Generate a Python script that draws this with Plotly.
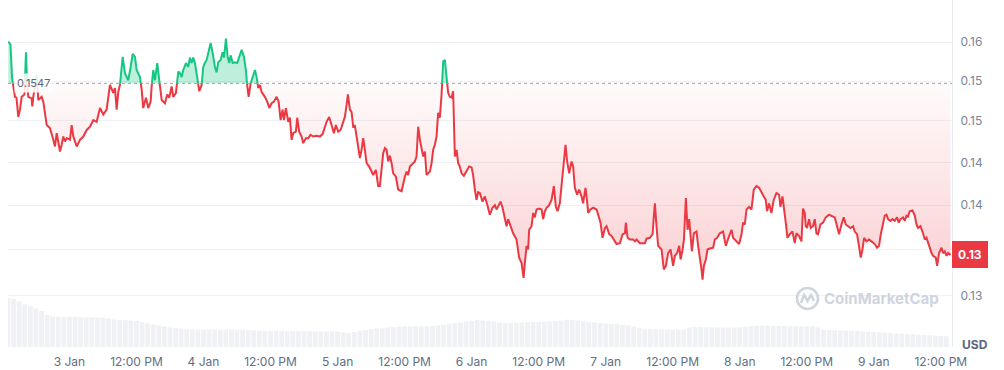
import numpy as np
import pandas as pd
import plotly.graph_objects as go

# ---------------- data ----------------
START = pd.Timestamp("2024-01-02 13:00")
REF_PRICE = 0.1547
LAST_LABEL = "0.13"

hours = [
    0.05, 0.45, 0.72, 0.98, 1.25, 1.52, 1.84, 2.15, 2.45, 2.95,
    3.22, 3.49, 3.63, 4.24, 4.35, 4.53, 5.14, 5.42, 6.03, 6.32,
    6.93, 7.52, 8.11, 8.41, 8.72, 9.00, 9.31, 9.61, 9.90, 10.20,
    10.51, 11.10, 11.40, 11.69, 12.30, 12.89, 13.48, 14.09, 14.68, 15.27,
    15.87, 16.47, 17.06, 17.66, 18.25, 18.85, 19.15, 19.45, 19.74, 20.04,
    20.53, 20.94, 21.53, 21.96, 22.32, 22.73, 23.03, 23.62, 23.93, 24.21,
    24.70, 25.11, 25.54, 25.72, 26.00, 26.31, 26.72, 27.08, 27.51, 28.10,
    28.51, 28.87, 29.30, 29.58, 30.07, 30.48, 30.78, 31.09, 31.37, 31.86,
    32.27, 32.57, 32.88, 33.16, 33.47, 33.77, 34.24, 34.67, 34.95, 35.26,
    35.56, 35.85, 36.28, 36.64, 37.05, 37.35, 37.64, 38.07, 38.42, 38.66,
    39.02, 39.32, 39.61, 39.86, 40.22, 40.63, 41.04, 41.40, 41.83, 42.24,
    42.59, 42.83, 43.08, 43.44, 43.79, 44.21, 44.51, 44.80, 45.10, 45.40,
    45.99, 46.41, 46.77, 47.20, 47.61, 48.09, 48.45, 48.81, 49.16, 49.40,
    49.75, 50.17, 50.47, 50.77, 51.06, 51.54, 51.78, 52.13, 52.56, 52.85,
    53.33, 53.74, 54.17, 54.64, 55.25, 55.84, 56.32, 56.74, 57.04, 57.50,
    57.93, 58.35, 58.70, 59.11, 59.54, 60.01, 60.31, 60.62, 60.85, 61.21,
    61.51, 61.80, 62.10, 62.41, 62.69, 63.00, 63.30, 63.59, 63.89, 64.20,
    64.66, 65.09, 65.38, 65.86, 66.27, 66.58, 66.88, 67.17, 67.47, 67.78,
    68.06, 68.37, 68.67, 68.96, 69.44, 69.85, 70.46, 70.75, 71.05, 71.36,
    71.64, 71.95, 72.25, 72.84, 73.14, 73.43, 73.74, 74.04, 74.33, 74.63,
    74.93, 75.22, 75.53, 75.83, 76.12, 76.42, 76.72, 77.01, 77.31, 77.62,
    77.91, 78.21, 78.51, 78.80, 79.10, 79.41, 79.69, 79.87, 80.00, 80.30,
    80.59, 80.89, 81.20, 81.61, 82.09, 82.56, 82.99, 83.27, 83.58, 83.88,
    84.17, 84.47, 84.96, 85.37, 85.78, 86.26, 86.74, 87.16, 87.46, 87.75,
    88.18, 88.54, 88.95, 89.25, 89.54, 89.84, 90.15, 90.43, 91.04, 91.51,
    91.94, 92.30, 92.53, 92.84, 93.12, 93.30, 93.73, 94.02, 94.32, 94.62,
    95.09, 95.52, 95.81, 96.11, 96.42, 96.88, 97.31, 97.72, 98.08, 98.38,
    98.79, 99.10, 99.38, 99.81, 100.10, 100.46, 100.89, 101.17, 101.48, 101.89,
    102.25, 102.68, 102.96, 103.39, 103.68, 103.86, 104.29, 104.76, 105.37, 105.66,
    106.08, 106.44, 106.86, 107.16, 107.63, 108.06, 108.52, 108.95, 109.54, 110.03,
    110.44, 110.62, 110.92, 111.33, 111.92, 112.23, 112.53, 113.12, 114.02, 114.32,
    114.91, 115.40, 115.63, 115.81, 116.10, 116.39, 117.00, 117.41, 117.77, 118.18,
    118.61, 119.07, 119.39, 119.80, 120.16, 120.41, 120.77, 121.01, 121.36, 121.66,
    121.95, 122.20, 122.43, 122.79, 123.26, 123.55, 123.86, 124.16, 124.34, 124.58,
    124.93, 125.23, 125.64, 126.24, 126.54, 126.95, 127.43, 128.02, 128.50, 128.74,
    129.10, 129.53, 129.81, 130.42, 130.89, 131.32, 131.60, 131.91, 132.21, 132.68,
    133.10, 133.51, 133.99, 134.46, 134.89, 135.30, 135.66, 135.89, 136.25, 136.68,
    137.09, 137.57, 138.04, 138.29, 138.65, 138.88, 139.24, 139.54, 139.96, 140.44,
    140.85, 141.15, 141.62, 142.05, 142.33, 142.64, 142.82, 143.05, 143.41, 143.71,
    144.12, 144.43, 144.73, 145.02, 145.45, 145.91, 146.40, 146.99, 147.42, 148.01,
    148.42, 148.78, 149.21, 149.62, 149.98, 150.39, 150.82, 151.29, 151.59, 152.00,
    152.36, 152.67, 152.97, 153.26, 153.68, 154.15, 154.58, 155.17, 155.58, 155.94,
    156.25, 156.55, 156.96, 157.27, 157.55, 157.98, 158.34, 158.75, 159.16, 159.47,
    159.77, 160.24, 160.54, 160.85, 161.13, 161.44, 161.92, 162.33, 162.64, 162.92,
    163.35, 163.71, 164.13, 164.43, 164.72, 165.02, 165.33, 165.61, 166.10, 166.33,
    166.69, 167.12, 167.41, 167.71, 168.02, 168.30, 168.73,
]

price = [
    .1601, .1597, .1555, .1541, .1530, .1529, .1505, .1514, .1530, .1533,
    .1587, .1533, .1530, .1528, .1518, .1530, .1558, .1526, .1530, .1524,
    .1495, .1491, .1477, .1469, .1485, .1473, .1463, .1471, .1481, .1475,
    .1479, .1477, .1495, .1481, .1469, .1477, .1481, .1489, .1493, .1501,
    .1499, .1516, .1508, .1514, .1545, .1535, .1541, .1514, .1536, .1545,
    .1581, .1560, .1551, .1568, .1585, .1581, .1564, .1555, .1539, .1516,
    .1529, .1516, .1524, .1543, .1564, .1551, .1573, .1551, .1526, .1522,
    .1533, .1529, .1543, .1530, .1535, .1562, .1560, .1555, .1564, .1573,
    .1568, .1580, .1573, .1580, .1573, .1560, .1537, .1545, .1568, .1573,
    .1577, .1586, .1599, .1586, .1568, .1561, .1574, .1577, .1587, .1580,
    .1605, .1581, .1573, .1583, .1573, .1574, .1573, .1581, .1590, .1581,
    .1564, .1543, .1530, .1547, .1555, .1564, .1555, .1541, .1545, .1536,
    .1530, .1524, .1516, .1522, .1524, .1530, .1524, .1501, .1514, .1501,
    .1516, .1499, .1504, .1477, .1485, .1487, .1504, .1487, .1481, .1473,
    .1479, .1479, .1483, .1481, .1482, .1481, .1484, .1493, .1499, .1505,
    .1495, .1485, .1495, .1487, .1489, .1499, .1505, .1520, .1533, .1514,
    .1511, .1493, .1494, .1481, .1469, .1455, .1465, .1479, .1465, .1449,
    .1445, .1439, .1435, .1441, .1422, .1422, .1441, .1461, .1467, .1465,
    .1451, .1458, .1449, .1437, .1433, .1418, .1416, .1426, .1433, .1439,
    .1435, .1445, .1447, .1451, .1457, .1493, .1477, .1465, .1457, .1463,
    .1435, .1437, .1439, .1449, .1465, .1471, .1481, .1510, .1504, .1533,
    .1575, .1577, .1555, .1535, .1530, .1529, .1537, .1465, .1457, .1465,
    .1449, .1445, .1437, .1434, .1439, .1445, .1444, .1435, .1418, .1406,
    .1415, .1414, .1404, .1410, .1401, .1389, .1397, .1400, .1395, .1398,
    .1404, .1397, .1384, .1376, .1384, .1378, .1372, .1368, .1361, .1341,
    .1335, .1319, .1335, .1354, .1350, .1372, .1376, .1391, .1386, .1395,
    .1396, .1395, .1384, .1393, .1397, .1400, .1406, .1422, .1398, .1393,
    .1402, .1425, .1441, .1471, .1451, .1437, .1451, .1445, .1420, .1412,
    .1418, .1410, .1402, .1420, .1404, .1391, .1395, .1397, .1395, .1389,
    .1380, .1363, .1374, .1376, .1367, .1365, .1361, .1356, .1357, .1367,
    .1368, .1380, .1363, .1361, .1361, .1359, .1361, .1357, .1357, .1362,
    .1363, .1367, .1388, .1402, .1376, .1354, .1350, .1328, .1332, .1346,
    .1350, .1332, .1343, .1346, .1354, .1339, .1350, .1361, .1408, .1372,
    .1384, .1365, .1348, .1368, .1370, .1354, .1343, .1328, .1317, .1332,
    .1339, .1350, .1351, .1352, .1361, .1363, .1368, .1370, .1354, .1359,
    .1365, .1372, .1363, .1359, .1356, .1367, .1380, .1378, .1395, .1398,
    .1395, .1418, .1422, .1420, .1414, .1410, .1406, .1393, .1402, .1391,
    .1406, .1414, .1412, .1398, .1410, .1395, .1380, .1363, .1367, .1370,
    .1357, .1368, .1365, .1359, .1396, .1391, .1376, .1374, .1384, .1374,
    .1376, .1384, .1368, .1367, .1378, .1380, .1386, .1389, .1388, .1386,
    .1376, .1367, .1378, .1386, .1378, .1376, .1374, .1376, .1370, .1367,
    .1354, .1341, .1350, .1363, .1359, .1361, .1359, .1356, .1352, .1354,
    .1367, .1376, .1388, .1389, .1384, .1382, .1384, .1382, .1386, .1380,
    .1384, .1386, .1382, .1388, .1387, .1393, .1394, .1388, .1378, .1374,
    .1376, .1370, .1361, .1363, .1356, .1352, .1346, .1343, .1341, .1332,
    .1346, .1352, .1346, .1348, .1343, .1346, .1344,
]

# hourly volume (millions USD, approximate)
volume = [
    49, 48, 45.5, 42.5, 41, 38.5, 36, 32, 30.5, 30,
    30, 30, 30, 29.8, 29.8, 29.5, 29.5, 29.3, 28.5, 27.5,
    27, 26.8, 26.5, 26, 25, 23.5, 22.5, 21.5, 20.5, 19.5,
    19, 18.5, 17.8, 17.5, 17.3, 17.5, 17.5, 17.3, 17.3, 17.3,
    17.5, 17.3, 17.3, 17, 16.8, 16.5, 16.3, 16, 16.3, 16,
    15.8, 16, 16, 16, 15.8, 15.5, 15.5, 15.5, 15.5, 15.3,
    14.5, 14, 15, 16.3, 17, 17.8, 18.5, 18.8, 19.5, 20,
    20.5, 20.7, 20.7, 20.7, 20.8, 20.8, 21, 21.5, 22.5, 23.5,
    24, 24.5, 25.5, 26, 27, 26.5, 26, 25.5, 24.5, 24,
    24, 24.3, 24.5, 24.8, 25, 25, 25.3, 25.5, 26, 26.5,
    27.3, 27, 26.3, 25.8, 25, 24.5, 24, 23.5, 23, 22.7,
    22, 21.5, 20.5, 19, 18.3, 18, 17.8, 17.6, 17.5, 17.4,
    17.3, 17.5, 19.5, 20, 20, 19.8, 19.7, 19.5, 19.4, 19.3,
    19.3, 19.8, 20.3, 20.8, 21.2, 21.3, 21.3, 21.2, 21, 21,
    20.8, 20.7, 20.7, 20.7, 20.7, 19.5, 17.3, 17, 16.8, 16.5,
    16.3, 16.2, 16, 15.5, 15.2, 15, 14.7, 14.3, 14, 13.5,
    13.3, 13, 12.6, 12.2, 12, 11.7, 11.3, 11, 10.7,
]
volume_hours = list(range(len(volume)))

# the 0.135 tick label sits under the last-price badge, so its text is left empty
y_tickvals = [0.13, 0.135, 0.14, 0.145, 0.15, 0.155, 0.16]
y_ticktext = ["0.13", "", "0.14", "0.14", "0.15", "0.15", "0.16"]

x_tick_hours = [11, 23, 35, 47, 59, 71, 83, 95, 107, 119, 131, 143, 155, 167]
x_ticktext = ["3 Jan", "12:00 PM", "4 Jan", "12:00 PM", "5 Jan", "12:00 PM",
              "6 Jan", "12:00 PM", "7 Jan", "12:00 PM", "8 Jan", "12:00 PM",
              "9 Jan", "12:00 PM"]
RANGE_HOURS = 169

# ---------------- processing ----------------
RED = "#ea3943"
GREEN = "#16c784"
FONT = "Inter, sans-serif"

t = [START + pd.Timedelta(hours=h) for h in hours]
ts, ps = [], []
for i in range(len(price)):
    if i > 0:
        p0, p1 = price[i - 1], price[i]
        if (p0 - REF_PRICE) * (p1 - REF_PRICE) < 0:
            f = (REF_PRICE - p0) / (p1 - p0)
            ts.append(t[i - 1] + (t[i] - t[i - 1]) * f)
            ps.append(REF_PRICE)
    ts.append(t[i])
    ps.append(price[i])
ps = np.array(ps)
red_y = [p if p <= REF_PRICE + 1e-12 else None for p in ps]
green_y = [p if p >= REF_PRICE - 1e-12 else None for p in ps]
low = np.minimum(ps, REF_PRICE)
high = np.maximum(ps, REF_PRICE)
ref_y = [REF_PRICE] * len(ts)

vt = [START + pd.Timedelta(hours=h) for h in volume_hours]
x_end = START + pd.Timedelta(hours=RANGE_HOURS)

fig = go.Figure()
fig.add_trace(go.Bar(x=vt, y=volume, yaxis="y2", marker=dict(color="#f0f1f4", line=dict(width=0)),
                     hoverinfo="skip"))
fig.add_trace(go.Scatter(x=ts, y=ref_y, mode="lines", line=dict(width=0), hoverinfo="skip"))
fig.add_trace(go.Scatter(x=ts, y=low, mode="lines", line=dict(width=0), fill="tonexty",
                         fillgradient=dict(type="vertical",
                                           colorscale=[[0, "rgba(234,57,67,0.24)"],
                                                       [1, "rgba(234,57,67,0.02)"]]),
                         hoverinfo="skip"))
fig.add_trace(go.Scatter(x=ts, y=ref_y, mode="lines", line=dict(width=0), hoverinfo="skip"))
fig.add_trace(go.Scatter(x=ts, y=high, mode="lines", line=dict(width=0), fill="tonexty",
                         fillcolor="rgba(22,199,132,0.28)", hoverinfo="skip"))
fig.add_trace(go.Scatter(x=[START, x_end], y=[REF_PRICE, REF_PRICE], mode="lines",
                         line=dict(color="#9aa1ad", width=1, dash="dot"), hoverinfo="skip"))
fig.add_trace(go.Scatter(x=ts, y=red_y, mode="lines", line=dict(color=RED, width=2),
                         connectgaps=False, hoverinfo="skip"))
fig.add_trace(go.Scatter(x=ts, y=green_y, mode="lines", line=dict(color=GREEN, width=2),
                         connectgaps=False, hoverinfo="skip"))

def px_x(p):
    return (p - 8) / 944.0

def px_y(p):
    return (347 - p) / 347.0

annotations = [
    dict(x=px_x(14), y=np.log10(REF_PRICE), xref="paper", yref="y", xanchor="left", yanchor="middle",
         text=f"{REF_PRICE}", showarrow=False, font=dict(family=FONT, size=11, color="#58667e"),
         bgcolor="rgba(255,255,255,0.85)", borderpad=2),
    dict(x=1.0, y=np.log10(price[-1]), xref="paper", yref="y", xanchor="left", yanchor="middle",
         text=f"<b>{LAST_LABEL}</b>", showarrow=False, font=dict(family=FONT, size=12, color="white"),
         bgcolor=RED, bordercolor=RED, borderpad=5),
    dict(x=px_x(975), y=px_y(344), xref="paper", yref="paper", xanchor="center", yanchor="middle",
         text="<b>USD</b>", showarrow=False, font=dict(family=FONT, size=12, color="#58667e")),
    dict(x=px_x(881.5), y=px_y(298.5), xref="paper", yref="paper", xanchor="center", yanchor="middle",
         text="<b>CoinMarketCap</b>", showarrow=False, font=dict(family=FONT, size=15, color="#cfd5df")),
]

shapes = [
    dict(type="circle", xref="paper", yref="paper", x0=px_x(797), x1=px_x(818), y0=px_y(309),
         y1=px_y(288), line=dict(color="#cfd5df", width=2.5)),
    dict(type="path", xref="paper", yref="paper",
         path=f"M {px_x(801)} {px_y(303)} L {px_x(804)} {px_y(295)} L {px_x(807.5)} {px_y(301)} "
              f"L {px_x(811)} {px_y(295)} L {px_x(814)} {px_y(301)}",
         line=dict(color="#cfd5df", width=2.5)),
]

fig.update_layout(
    width=1004, height=370,
    margin=dict(l=8, r=52, t=0, b=23),
    paper_bgcolor="white", plot_bgcolor="white",
    showlegend=False, hovermode=False, bargap=0.15,
    font=dict(family=FONT),
    xaxis=dict(type="date", range=[START, x_end], showgrid=False, zeroline=False, showline=False,
               tickvals=[START + pd.Timedelta(hours=h) for h in x_tick_hours], ticktext=x_ticktext,
               ticks="", tickfont=dict(family=FONT, size=12, color="#616e85"), ticklabelstandoff=6,
               fixedrange=True),
    yaxis=dict(type="log", range=[-0.90440, -0.78082], side="right", tickvals=y_tickvals,
               ticktext=y_ticktext, showgrid=True, gridcolor="#eff2f5", gridwidth=1, zeroline=False,
               showline=True, linecolor="#e9ecf0", linewidth=1, ticks="",
               tickfont=dict(family=FONT, size=12, color="#7a8599"), ticklabelstandoff=5,
               fixedrange=True),
    yaxis2=dict(overlaying="y", range=[0, 347], visible=False, fixedrange=True),
    annotations=annotations,
    shapes=shapes,
)

fig.write_html("out.html", config={"displayModeBar": False})
